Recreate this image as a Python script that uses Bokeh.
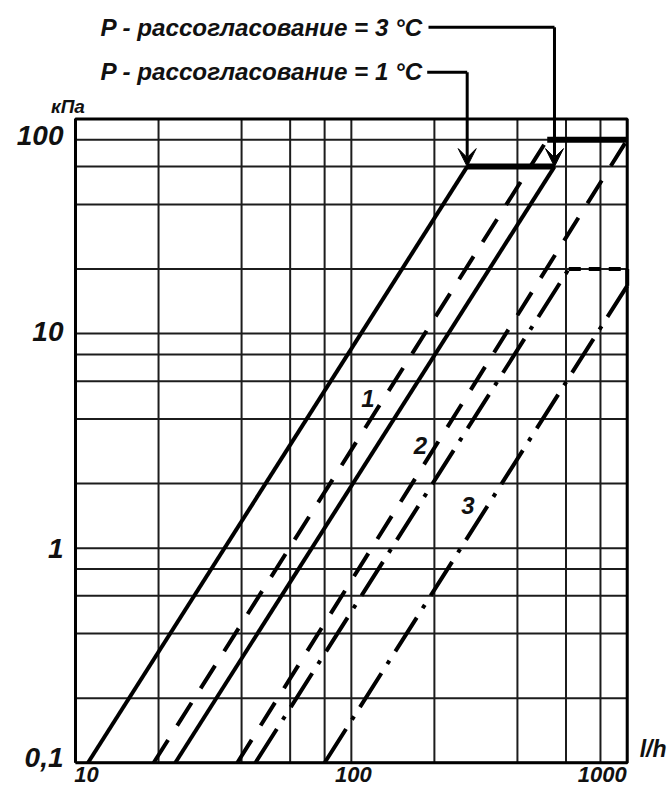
from bokeh.plotting import figure
from bokeh.models import Range1d, Arrow, VeeHead
from bokeh.core.properties import value
from bokeh.embed import file_html
from bokeh.resources import INLINE

# ---------------- data ----------------
x_grid = [10, 20, 40, 60, 80, 100, 200, 400, 600, 800, 1000]
y_grid = [0.1, 0.2, 0.4, 0.6, 0.8, 1, 2, 4, 6, 8, 10, 20, 40, 60, 80, 100]
x_ticks = [10, 100, 1000]
x_tick_labels = ["10", "100", "1000"]
y_ticks = [0.1, 1, 10, 100]
y_tick_labels = ["0,1", "1", "10", "100"]

# characteristic lines: flow (l/h) vs pressure drop (kPa), end points
solid_a_q, solid_a_p = [11.1, 263], [0.1, 60]
solid_b_q, solid_b_p = [23, 545], [0.1, 60]
dash_1_q, dash_1_p = [19.2, 513], [0.1, 80]
dash_2_q, dash_2_p = [38.6, 1000], [0.1, 80]
dashdot_l_q, dashdot_l_p = [44.9, 614], [0.1, 20]
dashdot_3_q, dashdot_3_p = [80, 1000], [0.1, 16.7]
# limit segments
lim60_q, lim60_p = [263, 545], [60, 60]
lim80_q, lim80_p = [513, 1000], [80, 80]
lim20_q, lim20_p = [614, 1000], [20, 20]
lim20v_q, lim20v_p = [1000, 1000], [20, 16.7]

curve_labels = ["1", "2", "3"]
title_3c = "P - рассогласование = 3 °C"
title_1c = "P - рассогласование = 1 °C"

# ---------------- layout (canvas pixels) ----------------
W, H = 669, 788
FX0, FX1 = 75.0, 626.7     # canvas px of x = 10 and x = 1000
FYT, FYB = 118.5, 762.3    # canvas px (from top) of y = 100 and y = 0.1
dx = (FX1 - FX0) / 2.0
dy = (FYB - FYT) / 3.0


def xd(px):
    return 10 ** (1 + (px - FX0) / dx)


def yd(py):
    return 10 ** (-1 + (FYB - py) / dy)


FONT = value("Liberation Sans")

p = figure(width=W, height=H, x_axis_type="log", y_axis_type="log",
           x_range=Range1d(xd(0), xd(W)), y_range=Range1d(yd(H), yd(0)),
           output_backend="svg", toolbar_location=None, min_border=0)
p.axis.visible = False
p.grid.visible = False
p.outline_line_color = None
p.background_fill_color = "white"
p.border_fill_color = "white"

GRID = "#1c1c1c"
nx, ny = len(x_grid), len(y_grid)
p.segment(x0=x_grid, y0=[y_grid[0]] * nx, x1=x_grid, y1=[y_grid[-1]] * nx,
          line_width=2, line_color=GRID)
p.segment(x0=[x_grid[0]] * ny, y0=y_grid, x1=[x_grid[-1]] * ny, y1=y_grid,
          line_width=2, line_color=GRID)
p.line([x_grid[0], x_grid[-1], x_grid[-1], x_grid[0], x_grid[0]],
       [y_grid[0], y_grid[0], y_grid[-1], y_grid[-1], y_grid[0]],
       line_width=3, line_color="black")

LW = 4
p.line(solid_a_q, solid_a_p, line_width=LW, line_color="black")
p.line(solid_b_q, solid_b_p, line_width=LW, line_color="black")
p.line(dash_1_q, dash_1_p, line_width=LW, line_color="black", line_dash="27 17")
p.line(dash_2_q, dash_2_p, line_width=LW, line_color="black", line_dash="27 17")
p.line(dashdot_l_q, dashdot_l_p, line_width=LW, line_color="black", line_dash="40 11 4 11")
p.line(dashdot_3_q, dashdot_3_p, line_width=LW, line_color="black", line_dash="40 11 4 11")
p.line(lim60_q, lim60_p, line_width=6, line_color="black")
p.line(lim80_q, lim80_p, line_width=6, line_color="black")
p.line(lim20_q, lim20_p, line_width=4, line_color="black", line_dash="12 8")
p.line(lim20v_q, lim20v_p, line_width=4, line_color="black")

TXT = dict(text_font=FONT, text_font_style="bold italic", text_color="#111111")

# curve numbers
p.text(x=[xd(367.5), xd(420), xd(467.5)], y=[yd(397.5), yd(445), yd(505)],
       text=curve_labels, text_align="center", text_baseline="middle",
       text_font_size="24px", **TXT)

# tick labels
p.text(x=[xd(63)] * len(y_ticks), y=y_ticks, text=y_tick_labels,
       y_offset=[-5, 0, -2, 16], text_align="right", text_baseline="middle",
       text_font_size="28px", **TXT)
p.text(x=x_ticks, y=[yd(774)] * len(x_ticks), text=x_tick_labels,
       x_offset=[11, 2, -25], text_align="center", text_baseline="middle",
       text_font_size="22px", **TXT)
p.text(x=[xd(67.5)], y=[yd(106)], text=["кПа"], text_align="center",
       text_baseline="middle", text_font_size="19px", **TXT)
p.text(x=[xd(666)], y=[yd(748)], text=["l/h"], text_align="right",
       text_baseline="middle", text_font_size="23px", **TXT)

# annotations with arrows
p.text(x=[xd(100), xd(100)], y=[yd(27), yd(71)], text=[title_3c, title_1c],
       text_align="left", text_baseline="middle", text_font_size="24.2px", **TXT)

y_lead3 = yd(26.7)
y_lead1 = yd(71.7)
p.line([xd(428), solid_b_q[1]], [y_lead3, y_lead3], line_width=3, line_color="black")
p.line([xd(426.7), solid_a_q[1]], [y_lead1, y_lead1], line_width=3, line_color="black")
for xq, yl in ((solid_b_q[1], y_lead3), (solid_a_q[1], y_lead1)):
    p.add_layout(Arrow(x_start=xq, y_start=yl, x_end=xq, y_end=solid_a_p[1],
                       line_width=3, line_color="black",
                       end=VeeHead(size=18, fill_color="black", line_color="black")))

open("out.html", "w").write(file_html(p, INLINE))
